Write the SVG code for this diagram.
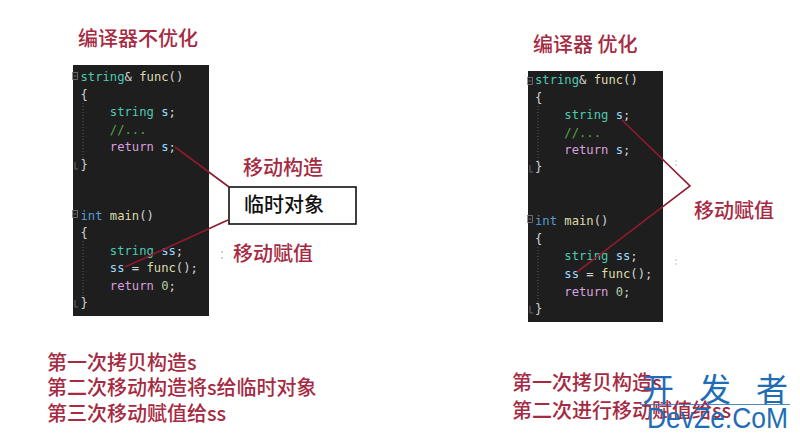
<svg xmlns="http://www.w3.org/2000/svg" width="800" height="439" viewBox="0 0 800 439">
<style>
.cn{font-family:"Noto Sans CJK SC","Noto Sans",sans-serif;font-size:20px;font-weight:500;fill:#a52a42}
.blk{font-family:"Noto Sans CJK SC","Noto Sans",sans-serif;font-size:20px;font-weight:500;fill:#111}
.code{font-family:"DejaVu Sans Mono","Liberation Mono",monospace;font-size:12.2px;fill:#d4d4d4;white-space:pre}
.ty{fill:#4ec9b0}.fn{fill:#dcdcaa}.var{fill:#9cdcfe}.kw{fill:#569cd6}.ret{fill:#d8a0df}.cm{fill:#57a64a}.num{fill:#b5cea8}
.panel{fill:#1e1e1e}
.guide{stroke:#5a5a5a;stroke-width:1;stroke-dasharray:1 2;fill:none}
.fold{fill:none;stroke:#7a7a7a;stroke-width:0.8}
.conn{fill:none;stroke:#8e1b2e;stroke-width:1.6;stroke-linejoin:miter}
.wm{fill:#1f6db5}
.dot{fill:#bbbbbb}
</style>
<rect width="800" height="439" fill="#ffffff"/>

<g id="left-title"><text class="cn" x="78" y="46">编译器不优化</text></g>

<g id="left-code">
<rect class="panel" x="73" y="65" width="136" height="251"/>
<rect class="fold" x="72.5" y="72.5" width="5" height="7"/><line class="fold" x1="73.5" y1="76" x2="76.5" y2="76"/>
<rect class="fold" x="72.5" y="210.5" width="5" height="7"/><line class="fold" x1="73.5" y1="214" x2="76.5" y2="214"/>
<path class="fold" d="M75 162 V169 H78"/>
<path class="fold" d="M75 300 V307 H78"/>
<line class="guide" x1="83" y1="103" x2="83" y2="160"/>
<line class="guide" x1="83" y1="241" x2="83" y2="298"/>
<text class="code" x="80.5" y="81"><tspan class="ty">string</tspan><tspan>&amp; </tspan><tspan class="fn">func</tspan><tspan>()</tspan></text>
<text class="code" x="80.5" y="98.5">{</text>
<text class="code" x="109.8" y="116"><tspan class="ty">string</tspan><tspan> </tspan><tspan class="var">s</tspan><tspan>;</tspan></text>
<text class="code cm" x="109.8" y="133.5">//...</text>
<text class="code" x="109.8" y="151"><tspan class="ret">return</tspan><tspan> </tspan><tspan class="var">s</tspan><tspan>;</tspan></text>
<text class="code" x="80.5" y="168.5">}</text>
<text class="code" x="80.5" y="219.5"><tspan class="kw">int</tspan><tspan> </tspan><tspan class="fn">main</tspan><tspan>()</tspan></text>
<text class="code" x="80.5" y="237">{</text>
<text class="code" x="109.8" y="254.5"><tspan class="ty">string</tspan><tspan> </tspan><tspan class="var">ss</tspan><tspan>;</tspan></text>
<text class="code" x="109.8" y="272"><tspan class="var">ss</tspan><tspan> = </tspan><tspan class="fn">func</tspan><tspan>();</tspan></text>
<text class="code" x="109.8" y="289.5"><tspan class="ret">return</tspan><tspan> </tspan><tspan class="num">0</tspan><tspan>;</tspan></text>
<text class="code" x="80.5" y="307">}</text>
</g>

<g id="temp-object">
<rect x="229" y="187" width="127" height="37" fill="#ffffff" stroke="#111" stroke-width="1.6"/>
<text class="blk" x="244" y="212">临时对象</text>
</g>

<g id="label-move-construct"><text class="cn" x="243" y="175">移动构造</text></g>
<g id="label-move-assign-left">
<circle class="dot" cx="222" cy="252" r="0.9"/><circle class="dot" cx="222" cy="258" r="0.9"/>
<text class="cn" x="233" y="261">移动赋值</text>
</g>

<g id="left-notes">
<text class="cn" x="47" y="370">第一次拷贝构造s</text>
<text class="cn" x="47" y="395">第二次移动构造将s给临时对象</text>
<text class="cn" x="47" y="421">第三次移动赋值给ss</text>
</g>

<g id="right-title"><text class="cn" x="533" y="52">编译器 优化</text></g>

<g id="right-code">
<rect class="panel" x="528" y="71" width="135" height="251"/>
<rect class="fold" x="527.5" y="77.5" width="5" height="7"/><line class="fold" x1="528.5" y1="81" x2="531.5" y2="81"/>
<rect class="fold" x="527.5" y="215.5" width="5" height="7"/><line class="fold" x1="528.5" y1="219" x2="531.5" y2="219"/>
<path class="fold" d="M530 165 V172 H533"/>
<path class="fold" d="M530 306 V313 H533"/>
<line class="guide" x1="538" y1="106" x2="538" y2="163"/>
<line class="guide" x1="538" y1="247" x2="538" y2="304"/>
<text class="code" x="535" y="84"><tspan class="ty">string</tspan><tspan>&amp; </tspan><tspan class="fn">func</tspan><tspan>()</tspan></text>
<text class="code" x="535" y="101.5">{</text>
<text class="code" x="564.3" y="119"><tspan class="ty">string</tspan><tspan> </tspan><tspan class="var">s</tspan><tspan>;</tspan></text>
<text class="code cm" x="564.3" y="137">//...</text>
<text class="code" x="564.3" y="154"><tspan class="ret">return</tspan><tspan> </tspan><tspan class="var">s</tspan><tspan>;</tspan></text>
<text class="code" x="535" y="171">}</text>
<text class="code" x="535" y="225"><tspan class="kw">int</tspan><tspan> </tspan><tspan class="fn">main</tspan><tspan>()</tspan></text>
<text class="code" x="535" y="242.5">{</text>
<text class="code" x="564.3" y="260"><tspan class="ty">string</tspan><tspan> </tspan><tspan class="var">ss</tspan><tspan>;</tspan></text>
<text class="code" x="564.3" y="278"><tspan class="var">ss</tspan><tspan> = </tspan><tspan class="fn">func</tspan><tspan>();</tspan></text>
<text class="code" x="564.3" y="295.5"><tspan class="ret">return</tspan><tspan> </tspan><tspan class="num">0</tspan><tspan>;</tspan></text>
<text class="code" x="535" y="313">}</text>
</g>

<g id="label-move-assign-right">
<circle class="dot" cx="676" cy="161" r="0.8"/><circle class="dot" cx="676" cy="165" r="0.8"/>
<circle class="dot" cx="676" cy="260" r="0.8"/><circle class="dot" cx="676" cy="264" r="0.8"/>
<text class="cn" x="694" y="218">移动赋值</text>
</g>

<g id="right-notes">
<text class="cn" x="512" y="390">第一次拷贝构造s</text>
<text class="cn" x="512" y="418">第二次进行移动赋值给ss</text>
</g>

<g id="connectors">
<path class="conn" d="M175 147 L229 187"/>
<path class="conn" d="M228 220 L125 267"/>
<path class="conn" d="M622 120 L690 186 L577 272"/>
</g>

<g id="watermark">
<text class="wm" x="642" y="401" textLength="146" lengthAdjust="spacing" style="font-family:'Noto Sans CJK SC',sans-serif;font-size:32px;font-weight:400">开 发 者</text>
<line x1="640" y1="404.5" x2="790" y2="404.5" stroke="#1f6db5" stroke-width="0.8"/>
<text class="wm" x="647" y="428" textLength="141" lengthAdjust="spacingAndGlyphs" style="font-family:'Liberation Sans','Noto Sans',sans-serif;font-size:29px">DevZe.CoM</text>
</g>
</svg>
